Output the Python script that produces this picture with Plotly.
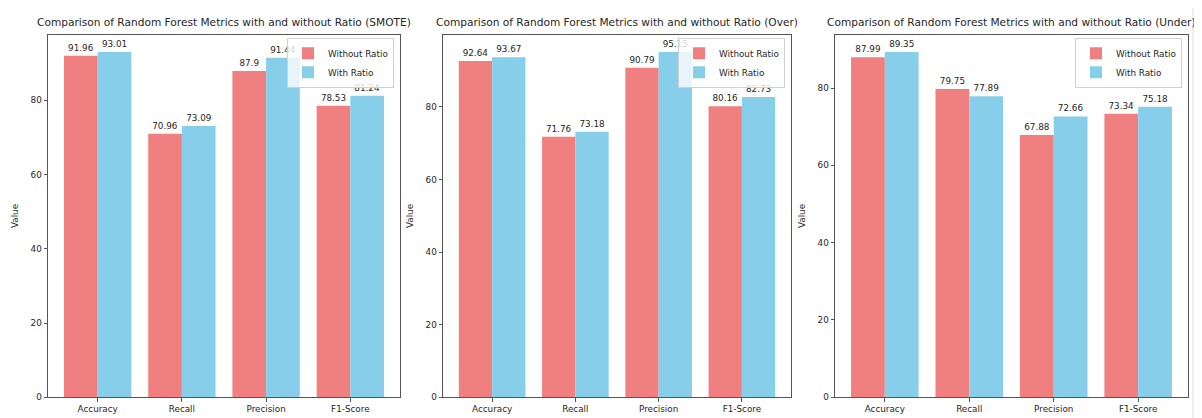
import plotly.graph_objects as go

metrics = ["Accuracy", "Recall", "Precision", "F1-Score"]
panels = ["SMOTE", "Over", "Under"]
without_ratio = {
    "SMOTE": [91.96, 70.96, 87.9, 78.53],
    "Over": [92.64, 71.76, 90.79, 80.16],
    "Under": [87.99, 79.75, 67.88, 73.34],
}
with_ratio = {
    "SMOTE": [93.01, 73.09, 91.44, 81.24],
    "Over": [93.67, 73.18, 95.15, 82.73],
    "Under": [89.35, 77.89, 72.66, 75.18],
}
y_ticks = [0, 20, 40, 60, 80]

W, H = 1202, 418
RED = "#F08080"
BLUE = "#87CEEB"
FONT = "DejaVu Sans"
TXT = "#262626"
FS = 8.8

# pixel boxes for axes: (left, right, top, bottom)
boxes = [(40, 392, 27, 394), (435, 783, 27, 394), (827, 1180, 27, 394)]

fig = go.Figure()
layout = dict(
    width=W, height=H, margin=dict(l=0, r=0, t=0, b=0),
    paper_bgcolor="white", plot_bgcolor="white",
    barmode="group", bargap=0.2, bargroupgap=0,
    font=dict(family=FONT, size=FS, color=TXT),
    showlegend=True,
    annotations=[],
    shapes=[dict(type="rect", xref="paper", yref="paper", x0=1184 / W, x1=1.0, y0=0, y1=1,
                 fillcolor="#efefef", line=dict(width=0), layer="below")],
)

for i, p in enumerate(panels):
    l, r, t, b = boxes[i]
    sfx = "" if i == 0 else str(i + 1)
    xa, ya = "x" + sfx, "y" + sfx
    leg = "legend" if i == 0 else "legend" + str(i + 1)
    ymax = max(max(without_ratio[p]), max(with_ratio[p])) * 1.05
    for name, vals, col in (("Without Ratio", without_ratio[p], RED), ("With Ratio", with_ratio[p], BLUE)):
        fig.add_trace(go.Bar(
            x=metrics, y=vals, name=name, marker=dict(color=col, line=dict(width=0)),
            text=[str(v) for v in vals], textposition="outside", cliponaxis=False,
            textfont=dict(family=FONT, size=FS, color=TXT),
            xaxis=xa, yaxis=ya, legend=leg, offsetgroup=name,
        ))
    layout["xaxis" + sfx] = dict(
        domain=[l / W, r / W], anchor=ya, range=[-0.59, 3.59],
        showline=True, mirror=True, linecolor="#555", linewidth=1,
        ticks="outside", ticklen=3.5, tickcolor="#555", showgrid=False,
        tickfont=dict(family=FONT, size=FS, color=TXT),
    )
    layout["yaxis" + sfx] = dict(
        domain=[(H - b) / H, (H - t) / H], anchor=xa, range=[0, ymax],
        tickvals=y_ticks, showline=True, mirror=True, linecolor="#555", linewidth=1,
        ticks="outside", ticklen=3.5, tickcolor="#555", showgrid=False, zeroline=False,
        tickfont=dict(family=FONT, size=FS, color=TXT),
        title=dict(text="Value", font=dict(family=FONT, size=FS, color=TXT), standoff=10),
    )
    layout[leg] = dict(
        x=(r - 6) / W, y=(H - t - 3) / H, xanchor="right", yanchor="top",
        bgcolor="rgba(255,255,255,0.8)", bordercolor="#d0d0d0", borderwidth=1,
        font=dict(family=FONT, size=FS, color=TXT), tracegroupgap=0,
        itemsizing="constant", itemwidth=30,
    )
    layout["annotations"].append(dict(
        text=f"Comparison of Random Forest Metrics with and without Ratio ({p})",
        x=(l + r) / 2 / W, y=(H - t + 5) / H, xref="paper", yref="paper",
        xanchor="center", yanchor="bottom", showarrow=False,
        font=dict(family=FONT, size=10.6, color=TXT),
    ))

fig.update_layout(**layout)
fig.write_html("out.html")
